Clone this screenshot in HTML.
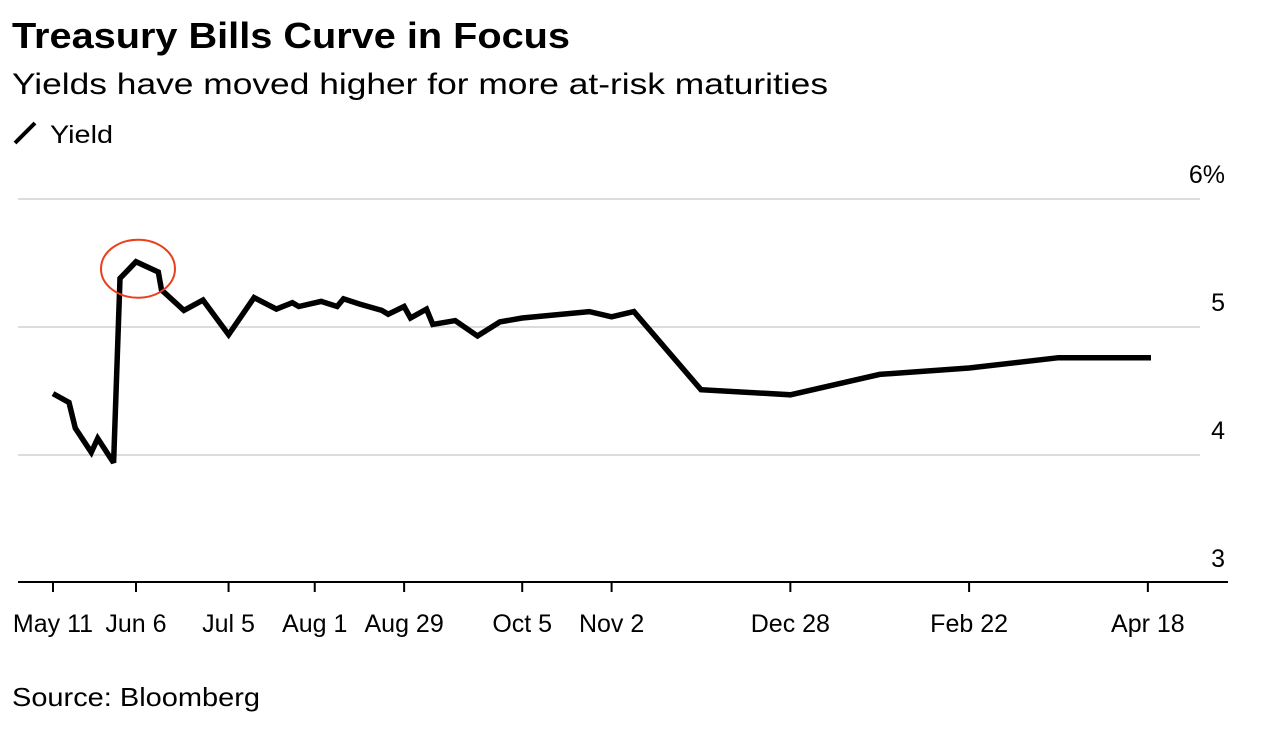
<!DOCTYPE html>
<html><head><meta charset="utf-8"><style>
body{margin:0;background:#fff;width:1276px;height:730px;overflow:hidden;font-family:"Liberation Sans",sans-serif}
</style></head><body>
<svg width="1276" height="730" style="position:absolute;left:0;top:0">
<text x="12" y="48" font-size="36" font-weight="bold" fill="#000" textLength="558" lengthAdjust="spacingAndGlyphs">Treasury Bills Curve in Focus</text>
<text x="12" y="94" font-size="30" fill="#000" textLength="816" lengthAdjust="spacingAndGlyphs">Yields have moved higher for more at-risk maturities</text>
<g>
<line x1="15" y1="143" x2="35" y2="123" stroke="#000" stroke-width="4"/>
<text x="50" y="143" font-size="25" fill="#000" textLength="63" lengthAdjust="spacingAndGlyphs">Yield</text>
</g>
<g id="grid"></g><g id="xax"></g><g id="plot"></g>
<text x="12" y="706" font-size="26" fill="#000" textLength="248" lengthAdjust="spacingAndGlyphs">Source: Bloomberg</text>
</svg>
<script>
const days=[0,5,7,12,14,19,21,26,33,34,41,47,55,63,70,75,77,84,89,91,96,103,105,110,112,117,119,126,133,140,147,168,175,182,203,231,259,287,315,344];
const yields=[4.48,4.41,4.21,4.02,4.13,3.94,5.38,5.51,5.43,5.29,5.13,5.21,4.94,5.23,5.14,5.19,5.16,5.20,5.16,5.22,5.18,5.13,5.10,5.16,5.07,5.14,5.02,5.05,4.93,5.04,5.07,5.12,5.08,5.12,4.51,4.47,4.63,4.68,4.76,4.76];
const xTickDays=[0,26,55,82,110,147,175,231,287,343];
const xTickLabels=["May 11","Jun 6","Jul 5","Aug 1","Aug 29","Oct 5","Nov 2","Dec 28","Feb 22","Apr 18"];
const yTicks=[3,4,5,6];
const yTickLabels=["3","4","5","6%"];
const NS="http://www.w3.org/2000/svg";
const xS=d=>53+d*3.192;
const yS=v=>199+(6-v)*128;
function mk(tag,attrs,parent){const e=document.createElementNS(NS,tag);for(const k in attrs)e.setAttribute(k,attrs[k]);parent.appendChild(e);return e;}
const grid=document.getElementById('grid'),xax=document.getElementById('xax'),plot=document.getElementById('plot');
yTicks.forEach((v,i)=>{
 if(v>3){const l=mk('line',{x1:18,x2:1200,y1:yS(v),y2:yS(v),stroke:'#dcdcdc','stroke-width':2},grid);
 
 }
 const t=mk('text',{x:1225,y:yS(v)-16,'font-size':25,'text-anchor':'end',fill:'#000'},grid);
 t.textContent=yTickLabels[i];
 
 
});
const ax=mk('line',{x1:18,x2:1228,y1:582,y2:582,stroke:'#000','stroke-width':2},xax);


xTickDays.forEach((d,i)=>{
 const tk=mk('line',{x1:xS(d),x2:xS(d),y1:582,y2:592,stroke:'#000','stroke-width':2},xax);
 
 
 const t=mk('text',{x:xS(d),y:632,'font-size':25,'text-anchor':'middle',fill:'#000'},xax);
 t.textContent=xTickLabels[i];
 
 
});
const pts=days.map((d,i)=>xS(d).toFixed(1)+','+yS(yields[i]).toFixed(1)).join(' ');
const pl=mk('polyline',{points:pts,fill:'none',stroke:'#000','stroke-width':5.5,'stroke-linejoin':'miter','stroke-miterlimit':3},plot);


const pk=yields.indexOf(Math.max(...yields));
const c=mk('ellipse',{cx:xS(days[pk])+2,cy:yS(yields[pk])+7,rx:37,ry:29,fill:'none',stroke:'#e8401c','stroke-width':2},plot);


</script>
</body></html>
